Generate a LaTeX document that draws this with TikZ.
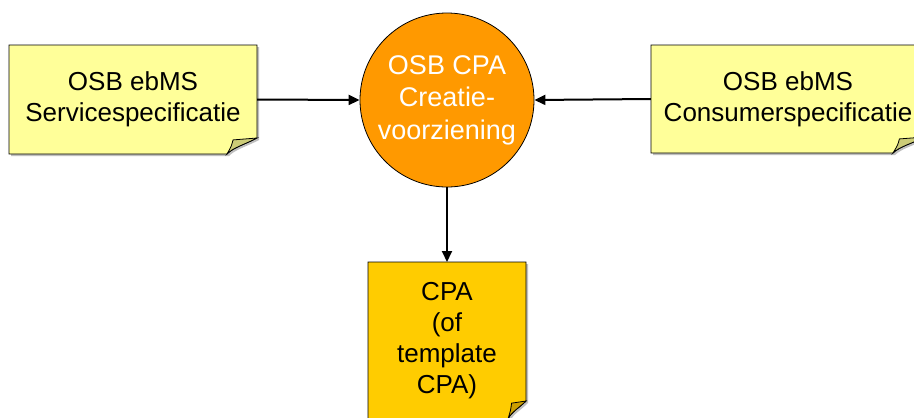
\documentclass[tikz,border=0pt]{standalone}
\usepackage{fontspec}
\setmainfont{Liberation Sans}
\usetikzlibrary{arrows.meta}
\definecolor{paleyellow}{HTML}{FFFF99}
\definecolor{palefold}{HTML}{CCCC77}
\definecolor{gold}{HTML}{FFCC00}
\definecolor{goldfold}{HTML}{CC9F00}
\definecolor{orangec}{HTML}{FF9900}
\tikzset{
  notetext/.style={align=center, inner sep=0pt, font=\fontsize{26}{31}\selectfont},
  noteedge/.style={draw=black, line width=0.8pt},
  shadowstyle/.style={fill=black!25},
  flow/.style={draw=black, line width=2pt, -{Triangle[length=11pt,width=10pt]}},
  circnode/.style={circle, draw=black, line width=0.8pt, fill=orangec, text=white,
    minimum size=174pt, inner sep=0pt, align=center, font=\fontsize{27}{32.5}\selectfont}
}
% #1 left, #2 top, #3 right, #4 bottom, #5 fill, #6 fold colour, #7 fold height, #8 fold width
\newcommand{\mynote}[8]{%
  \fill[shadowstyle] (#1+2,#2+2) -- (#3+2,#2+2) -- (#3+2,#4-#7+2)
     .. controls (#3-#8*0.4+2,#4-#7*0.6+2) and (#3-#8*0.8+2,#4-#7*0.4+2) .. (#3-#8+2,#4+2)
     -- (#1+2,#4+2) -- cycle;
  \filldraw[noteedge, fill=#5] (#1,#2) -- (#3,#2) -- (#3,#4-#7)
     .. controls (#3-#8*0.4,#4-#7*0.6) and (#3-#8*0.8,#4-#7*0.4) .. (#3-#8,#4)
     -- (#1,#4) -- cycle;
  \filldraw[noteedge, fill=#6] (#3,#4-#7) -- (#3-#8*0.8,#4-#7*0.88)
     .. controls (#3-#8*0.85,#4-#7*0.5) .. (#3-#8,#4)
     .. controls (#3-#8*0.8,#4-#7*0.4) and (#3-#8*0.4,#4-#7*0.6) .. cycle;
}
\begin{document}
\begin{tikzpicture}[x=1pt,y=-1pt]
\useasboundingbox (0,0) rectangle (914,418);
\clip (0,0) rectangle (914,418);
\fill[white] (0,0) rectangle (914,418);

\mynote{9}{45}{257}{154}{paleyellow}{palefold}{16}{30}
\mynote{651}{45}{925}{153}{paleyellow}{palefold}{16}{32}
\mynote{368}{262}{526}{419}{gold}{goldfold}{18}{18}

\node[notetext, minimum width=248pt, minimum height=109pt] (spec) at (133,99.5)
  {OSB ebMS\\Servicespecificatie};
\node[notetext, minimum width=274pt, minimum height=108pt] (cons) at (788,99)
  {OSB ebMS\\Consumerspecificatie};
\node[notetext, minimum width=158pt, minimum height=157pt] (cpa) at (447,340.5)
  {CPA\\(of\\template\\CPA)};
\node[notetext, minimum width=158pt] (cpatop) at (447,262) {};
\node[circnode] (circ) at (447,100) {OSB CPA\\Creatie-\\voorziening};

\draw[flow] (spec.east) -- (circ.west);
\draw[flow] (cons.west) -- (circ.east);
\draw[flow] (circ.south) -- (cpatop.center);
\end{tikzpicture}
\end{document}
